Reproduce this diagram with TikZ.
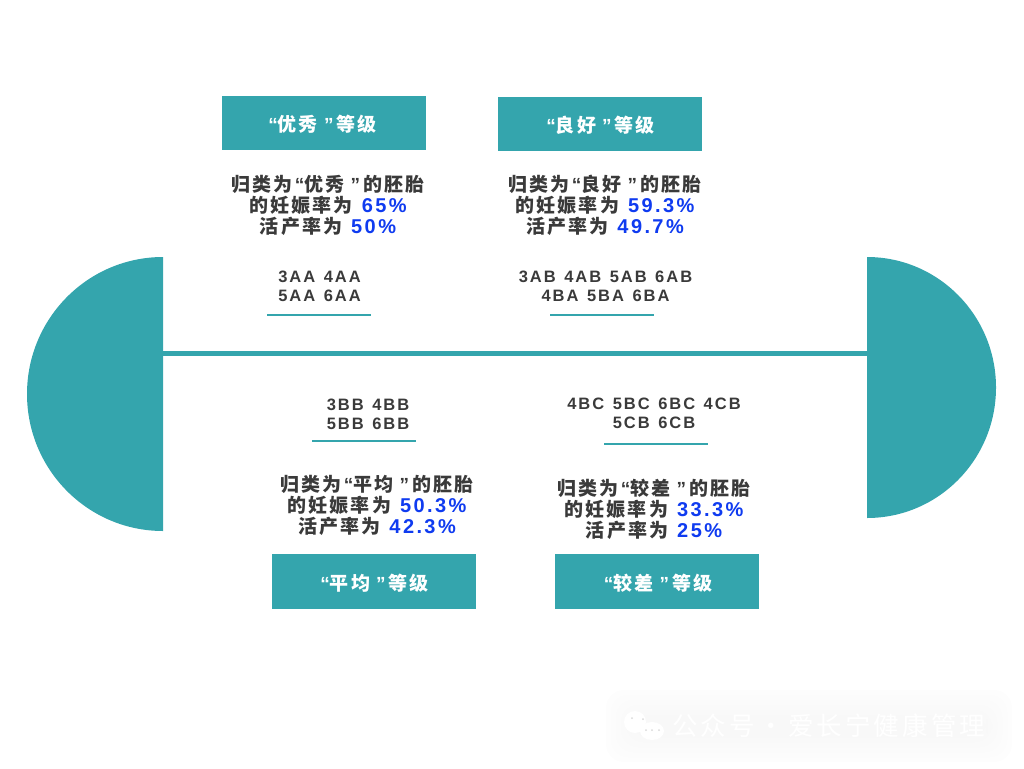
\documentclass[tikz,border=0pt]{standalone}
\usepackage{fontspec}
\setmainfont{Liberation Sans}[LetterSpace=12,WordSpace=1.3,BoldFont={Liberation Sans Bold}]
\newfontfamily\cjk{Noto Sans CJK SC}[LetterSpace=11]
\newfontfamily\cjkwm{Noto Sans CJK SC}[LetterSpace=12]
\definecolor{tealblock}{HTML}{34A5AD}
\definecolor{bodytext}{HTML}{3A3A3A}
\definecolor{ratetext}{HTML}{0F3BF0}
\newcommand{\zh}[1]{{\cjk\bfseries #1}}
\newcommand{\rate}[1]{\hspace{9pt}{\fontsize{20}{21}\selectfont\bfseries\color{ratetext}#1}}
\newcommand{\quoted}[1]{\hspace{2pt}“\zh{#1}\hspace{6pt}”\hspace{3pt}}
\newcommand{\gradelabel}[1]{\raisebox{-8.5pt}[0pt][0pt]{\quoted{#1}\zh{等级}}}
\newcommand{\ratelabel}[3]{\zh{归类为}\quoted{#1}\zh{的胚胎}\\\zh{的妊娠率为}\rate{#2}\\\zh{活产率为}\rate{#3}}
\tikzset{
  gradebox/.style={fill=tealblock, minimum width=204pt, minimum height=54.5pt, inner sep=0pt, text=white, font=\fontsize{19}{21}\selectfont\bfseries},
  ratetextblock/.style={align=center, inner sep=0pt, text=bodytext, font=\fontsize{19}{21}\selectfont\bfseries},
  codeblock/.style={align=center, inner sep=0pt, text=bodytext, font=\fontsize{16.5}{18.5}\selectfont\bfseries},
  underline/.style={draw=tealblock, line width=2pt},
  halfblock/.style={fill=tealblock}
}
\begin{document}
\begin{tikzpicture}[x=1pt,y=-1pt]
\useasboundingbox (0,0) rectangle (1024,768);

% end blocks and axis
\fill[halfblock] (163,531) arc[start angle=90, end angle=270, x radius=136, y radius=137] -- cycle;
\fill[halfblock] (867,518) arc[start angle=90, end angle=-90, x radius=129, y radius=130.5] -- cycle;
\coordinate (axisL) at (163,353);
\coordinate (axisR) at (867,353);
\draw[tealblock, line width=5pt] (axisL) -- (axisR);

% upper row
\node[gradebox] (boxA) at (324,123) {\hspace*{-5pt}\gradelabel{优秀}};
\node[gradebox] (boxB) at (599.5,124) {\gradelabel{良好}};
\node[ratetextblock] (rateA) at (328,205) {\ratelabel{优秀}{65\%}{50\%}};
\node[ratetextblock] (rateB) at (605,205.5) {\ratelabel{良好}{59.3\%}{49.7\%}};
\node[codeblock] (codeA) at (319.5,286.5) {3AA 4AA\\5AA 6AA};
\node[codeblock] (codeB) at (605.5,286.5) {3AB 4AB 5AB 6AB\\4BA 5BA 6BA};
\coordinate (ulAl) at (267,314.5);
\coordinate (ulAr) at (370.5,314.5);
\coordinate (ulBl) at (550,314.5);
\coordinate (ulBr) at (654,314.5);
\draw[underline] (ulAl) -- (ulAr);
\draw[underline] (ulBl) -- (ulBr);

% lower row
\node[codeblock] (codeC) at (368,414.5) {3BB 4BB\\5BB 6BB};
\node[codeblock] (codeD) at (654,413.5) {4BC 5BC 6BC 4CB\\5CB 6CB};
\coordinate (ulCl) at (312,441);
\coordinate (ulCr) at (416,441);
\coordinate (ulDl) at (604,444);
\coordinate (ulDr) at (708,444);
\draw[underline] (ulCl) -- (ulCr);
\draw[underline] (ulDl) -- (ulDr);
\node[ratetextblock] (rateC) at (377,505.5) {\ratelabel{平均}{50.3\%}{42.3\%}};
\node[ratetextblock] (rateD) at (654,509.5) {\ratelabel{较差}{33.3\%}{25\%}};
\node[gradebox] (boxC) at (373.5,581.5) {\gradelabel{平均}};
\node[gradebox] (boxD) at (657,581.5) {\gradelabel{较差}};

% watermark
\foreach \i/\c in {0/0.6,5/1,10/1.4,15/1.8,20/2.2,25/2.6}{
  \fill[black!\c, rounded corners=18pt] (606+\i,690+\i) rectangle (1012-\i,762-\i);
}
\fill[white] (635,722) circle[radius=11];
\fill[white] (652,731) ellipse[x radius=12, y radius=9];
\foreach \p in {(632,718),(643,719),(646,730),(652,730),(659,730)}{
  \fill[black!15] \p circle[radius=1];
}
\node[inner sep=0pt, text=white, anchor=west, font=\cjkwm\fontsize{25.5}{27}\selectfont] (wmark) at (672,726) {公众号\hspace{4pt}·\hspace{4pt}爱长宁健康管理};
\end{tikzpicture}
\end{document}
